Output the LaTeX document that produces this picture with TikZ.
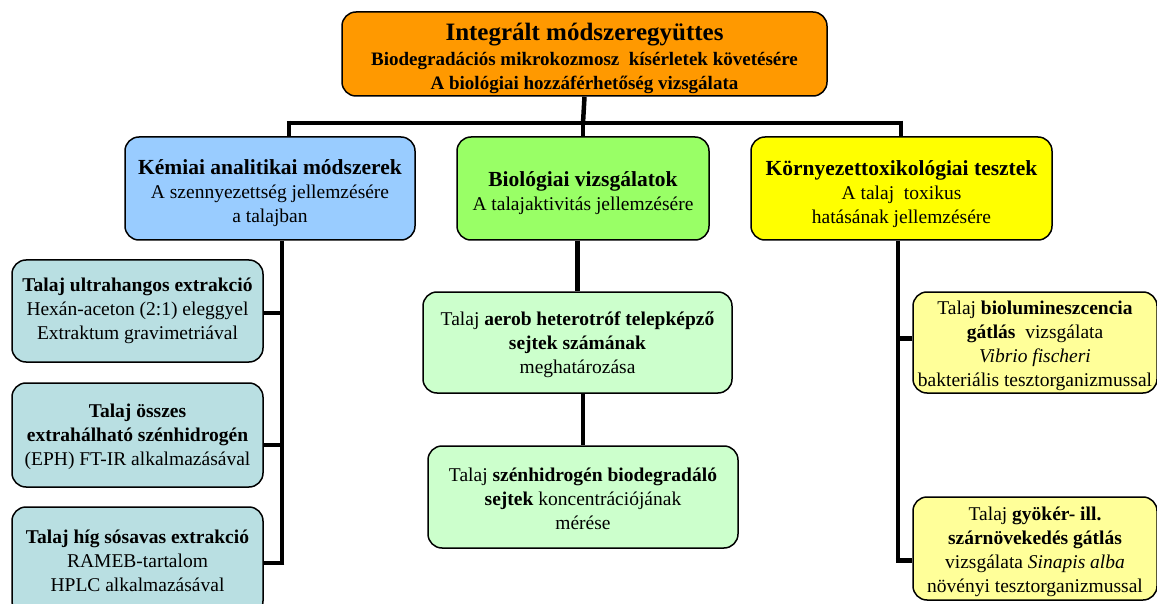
\documentclass[tikz,border=0pt]{standalone}
\usepackage{fontspec}
\setmainfont{Liberation Serif}
\usetikzlibrary{backgrounds}
\definecolor{corange}{HTML}{FF9900}
\definecolor{cblue}{HTML}{99CCFF}
\definecolor{cgreen}{HTML}{99FF66}
\definecolor{cyellow}{HTML}{FFFF00}
\definecolor{cteal}{HTML}{B9DFE2}
\definecolor{clgreen}{HTML}{CCFFCC}
\definecolor{clyellow}{HTML}{FFFF99}
\tikzset{
  box/.style={draw=black, line width=1.5pt, rounded corners=14pt, rectangle, inner sep=0pt},
  txt/.style={inner sep=0pt, align=center, font=\fontsize{19.5}{24}\selectfont},
  conn/.style={draw=black, line width=4.5pt}
}
\newcommand{\hdrfont}{\fontsize{21.5}{24}\selectfont\bfseries}
\begin{document}
\begin{tikzpicture}[x=1pt,y=-1pt]
\useasboundingbox (0,0) rectangle (1157,604);
% top
\node[box, fill=corange, minimum width=485pt, minimum height=84pt] (top) at (584.5,54) {};
\node[txt] (topT) at ([yshift=-4pt]top.center)
 {{\fontsize{25}{27}\selectfont\bfseries Integrált módszeregyüttes}\\[1pt]
  {\fontsize{19}{23}\selectfont\bfseries Biodegradációs mikrokozmosz\ \ kísérletek követésére}\\
  {\fontsize{19}{23}\selectfont\bfseries A biológiai hozzáférhetőség vizsgálata}};
% second level
\node[box, fill=cblue, minimum width=290pt, minimum height=103pt] (kem) at (270,188.5) {};
\node[txt] (kemT) at ([yshift=-5pt]kem.center)
 {{\hdrfont Kémiai analitikai módszerek}\\
  A szennyezettség jellemzésére\\ a talajban};
\node[box, fill=cgreen, minimum width=252pt, minimum height=103pt] (bio) at (583,188.5) {};
\node[txt] (bioT) at ([yshift=-5pt]bio.center)
 {{\hdrfont Biológiai vizsgálatok}\\
  A talajaktivitás jellemzésére};
\node[box, fill=cyellow, minimum width=301pt, minimum height=103pt] (korny) at (901.5,188.5) {};
\node[txt] (kornyT) at ([yshift=-6pt]korny.center)
 {{\hdrfont Környezettoxikológiai tesztek}\\
  A talaj\ \ toxikus\\ hatásának jellemzésére};
% left column
\node[box, fill=cteal, minimum width=251pt, minimum height=102pt] (t1) at (137.5,311) {};
\node[txt] (t1T) at (t1.center)
 {\textbf{Talaj ultrahangos extrakció}\\ Hexán-aceton (2:1) eleggyel\\ Extraktum gravimetriával};
\node[box, fill=cteal, minimum width=251pt, minimum height=104pt] (t2) at (137.5,435) {};
\node[txt] (t2T) at ([yshift=-2pt]t2.center)
 {\textbf{Talaj összes}\\ \textbf{extrahálható szénhidrogén}\\ (EPH) FT-IR alkalmazásával};
\node[box, fill=cteal, minimum width=251pt, minimum height=108pt] (t3) at (137.5,561) {};
\node[txt] (t3T) at (t3.center)
 {\textbf{Talaj híg sósavas extrakció}\\ RAMEB-tartalom\\ HPLC alkalmazásával};
% middle column
\node[box, fill=clgreen, minimum width=309pt, minimum height=101pt] (b1) at (577.5,342.5) {};
\node[txt] (b1T) at ([yshift=-2.5pt]b1.center)
 {Talaj \textbf{aerob heterotróf telepképző}\\ \textbf{sejtek számának}\\ meghatározása};
\node[box, fill=clgreen, minimum width=310pt, minimum height=102pt] (b2) at (583,497) {};
\node[txt] (b2T) at ([yshift=-2pt]b2.center)
 {Talaj \textbf{szénhidrogén biodegradáló}\\ \textbf{sejtek} koncentrációjának\\ mérése};
% right column
\node[box, fill=clyellow, minimum width=244pt, minimum height=101pt] (k1) at (1035,342.5) {};
\node[txt] (k1T) at ([yshift=-3pt]k1.center)
 {Talaj \textbf{biolumineszcencia}\\ \textbf{gátlás}\ \ vizsgálata\\ \textit{Vibrio fischeri}\\ bakteriális tesztorganizmussal};
\node[box, fill=clyellow, minimum width=244pt, minimum height=103pt] (k2) at (1035,548.5) {};
\node[txt] (k2T) at ([yshift=-3pt]k2.center)
 {Talaj \textbf{gyökér- ill.}\\ \textbf{szárnövekedés gátlás}\\ vizsgálata \textit{Sinapis alba}\\ növényi tesztorganizmussal};
% connectors
\begin{scope}[on background layer]
\coordinate (hL) at (289,123);
\coordinate (hR) at (901,123);
\coordinate (hM) at (583,123);
\draw[conn] (top.south) -- (hM);
\draw[conn] ([xshift=-2.25pt]hL) -- ([xshift=2.25pt]hR);
\draw[conn] ([yshift=2.25pt]hL) -- (hL |- kem.north);
\draw[conn] ([yshift=2.25pt]hR) -- (hR |- korny.north);
\draw[conn] (bio.north |- hM) -- (bio.north);
% left trunk
\coordinate (lt) at ([xshift=12pt]kem.south);
\coordinate (lb) at ([yshift=-2pt]t3.east -| lt);
\draw[conn] (lt) -- ([yshift=-2.25pt]lb);
\draw[conn] ([xshift=2.25pt]lb) -- ([yshift=-2pt]t3.east);
\draw[conn] ([yshift=-2pt]t1.east) -- ([yshift=-2pt]t1.east -| lt);
\draw[conn] ([yshift=-10pt]t2.east) -- ([yshift=-10pt]t2.east -| lt);
% middle
\draw[conn] (b1.north |- bio.south) -- (b1.north);
\draw[conn] (b2.north |- b1.south) -- (b2.north);
% right trunk
\coordinate (rt) at ([xshift=-3.5pt]korny.south);
\coordinate (rb) at ([yshift=-12pt]k2.west -| rt);
\draw[conn] (rt) -- ([yshift=-2.25pt]rb);
\draw[conn] ([xshift=-2.25pt]rb) -- ([yshift=-12pt]k2.west);
\draw[conn] ([yshift=4pt]k1.west) -- ([yshift=4pt]k1.west -| rt);
\end{scope}
\end{tikzpicture}
\end{document}
